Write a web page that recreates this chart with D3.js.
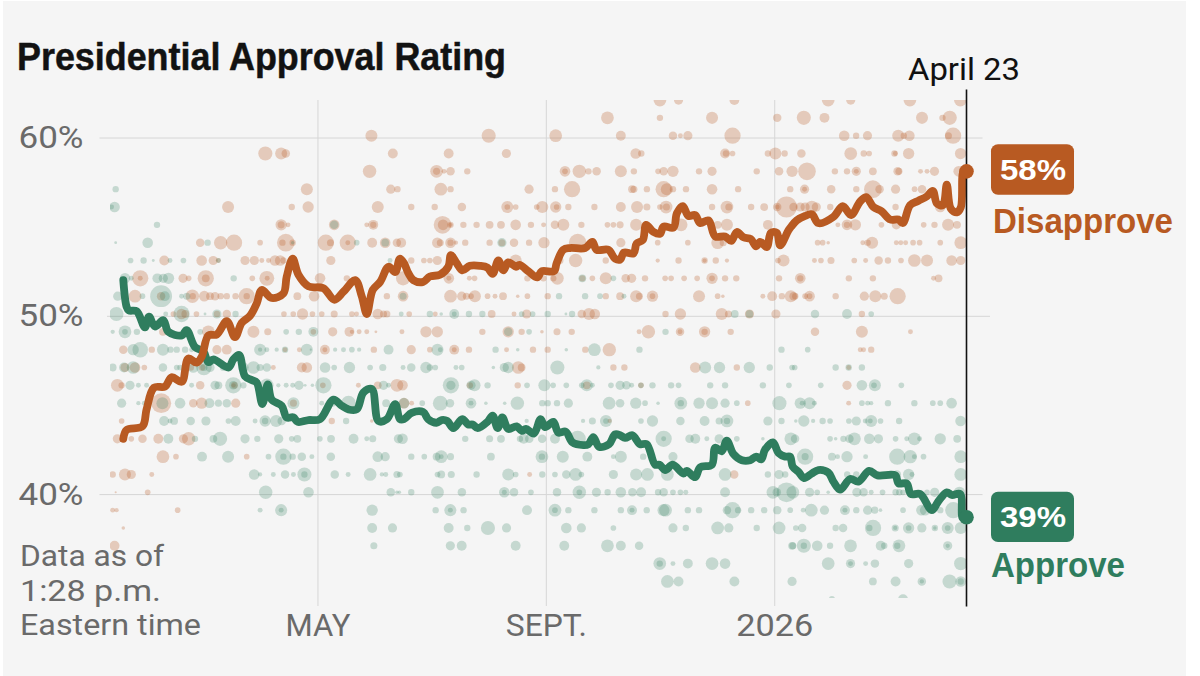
<!DOCTYPE html>
<html><head><meta charset="utf-8">
<script src="https://cdn.jsdelivr.net/npm/d3@7"></script>
<style>html,body{margin:0;padding:0;background:#fff;overflow:hidden}svg{display:block}</style>
</head><body><svg id="c" width="1200" height="676"></svg>
<script>
// x values are days relative to May 1, 2025; y values are percent.
const yTicks=[60,50,40];
const xTickDays=[0,122.7,245.4];
const xTickLabels=["MAY","SEPT.","2026"];
const lastDay=348.7;
const latestLabel="April 23";
const disapproveLatest=58, approveLatest=39;

const disapproveDays=[-104.3,-102.5,-94,-91.8,-87.8,-81.9,-78.3,-72.9,-69.4,-64.9,-62.2,-58.6,-54.1,-48.7,-44.3,-40.7,-36.2,-32.6,-29.9,-24.6,-18.3,-16.5,-13.3,-10.2,-4.8,3.2,9.1,14,20.3,23.8,26.5,29.7,33.7,38.2,41.8,44.3,46.5,48.8,51.5,56.8,60.4,65.8,70.3,71.7,74.8,77.8,81.9,87.3,91.3,94.1,97.2,99.9,102.5,106.7,108.5,113.3,118.1,120.5,127.1,128.5,132.1,135.7,143.8,147.7,150,156.3,159.9,162.6,164.7,169.8,171.5,174.8,176.6,180.5,184.1,185.9,191.3,193.1,196.3,199.3,202.9,205.6,210.1,213.7,219,222.3,225.3,228.9,232.8,235.7,237.8,241.4,243.6,246.8,248.6,253.1,254.5,257.5,262,265.6,269.1,277.2,282.2,286.7,291.5,294.8,298.7,303.2,307.7,312.1,314.5,318.4,322.9,327.4,330.6,332.8,336,338.1,340.3,343.5,345.7,347.1,348.7];
const disapproveValues=[43,43.5,43.7,44.65,45.87,45.93,46.45,46.2,47.5,47.27,47.6,48.8,48.85,49.6,48.7,49.5,49.9,50.6,51.35,50.9,51.15,52.1,53.1,52.2,51.55,51.45,50.8,51.25,51.9,51,50,51.35,51.8,52.65,52.35,53.1,52.85,52.3,51.9,51.8,52.1,52.2,52.65,53.3,52.85,52.45,52.7,52.7,52.6,52.25,53,52.45,52.9,52.65,52.75,52.4,52.05,52.4,52.4,52.85,53.6,53.7,53.7,54.05,53.6,53.6,53.1,53.05,53.45,53.4,53.95,54.15,55,54.6,54.5,54.9,54.85,55.65,56.05,55.5,55.55,55.1,55.25,54.35,54.35,54.1,54.6,54.3,54.2,53.8,54.05,53.75,54.55,54.55,53.85,54.7,54.9,55.25,55.5,55.6,55.1,55.45,56.05,55.55,56.3,56.55,56,55.75,55.3,55.3,55.1,56.1,56.35,56.6,56.9,56.2,56.1,57.25,55.9,55.7,56,58,58];

const approveDays=[-104.3,-102.5,-101.3,-97.1,-92.7,-90.5,-87.3,-82.8,-80.1,-72.9,-70.3,-65.8,-61.3,-58.6,-55.9,-47.8,-45.2,-42.1,-38.9,-35.3,-32.6,-29.6,-26.7,-24.6,-19.2,-16.5,-12.9,-10.6,-4.8,1.4,8.6,13.1,16.7,21.1,24.7,29.2,32.8,37.3,41.8,44.3,46.5,50.6,56.8,59.5,64,66.7,69.7,73,77.8,81,83.4,86.1,91.3,94.1,96.8,99.3,102.5,107,109.7,112,116.3,119.9,122.3,126.7,129.4,133.4,137,142.9,145.6,148.2,151.3,156.7,159.9,162.6,165.3,169.2,173.3,176.9,181.4,183.7,186.8,190.9,196.6,198.4,202.9,205.6,211.9,213.7,217.2,219.9,223.5,228,232.5,235.7,238.4,240.5,244.7,247.7,251.3,253.9,255.3,258.4,261.4,265.5,269.1,274.5,277.2,280.8,286.2,290.6,296.4,300.9,310.4,312.2,316.6,318.8,323.8,330.1,333.6,338.1,340.8,345.3,346.7,348.7];
const approveValues=[51.9,50.4,50.2,50.15,49.25,49.85,49.3,49.65,49,48.8,49.1,48.15,47.9,47.3,47.45,47,47.45,47.7,46.5,46.3,46.15,44.95,46.05,45.2,44.85,44.2,44.2,43.95,44.05,44.1,45.2,44.85,44.65,44.65,45.6,45.8,44,44.1,44.95,44.1,44.1,44.45,44.5,44.1,43.9,44.05,44,43.6,44.1,43.8,43.8,43.6,43.95,44.3,43.6,44.2,43.55,43.7,43.45,43.55,43.3,44.1,43.65,43.95,43.35,43.4,42.8,42.65,42.7,43.1,42.55,42.7,43.25,43.2,43.05,43.2,42.7,42.7,41.55,41.55,41.25,41.55,41.05,41.2,40.85,41.4,41.55,42.5,42.3,42.9,42.15,41.8,41.8,42,41.85,42.4,42.8,42.2,42,42,41.45,41.15,40.8,41.05,41.25,41.1,40.6,40.15,40.75,40.6,41.2,40.95,40.95,40.5,40.5,39.9,39.9,39,39.5,40,39.85,39.9,38.55,38.6];

// Individual polls: [percent, day, weight, day, weight, ...]
const disapprovePolls=[
[62,184,36,194,26,224,28,274.4,36,286.5,26,318.3,36,345.4,36],
[61,155.8,36,184,18,212,34,247,24,261.3,40,272.4,28,324.8,34,335.8,18,339.7,40],
[60,29,34,92,40,128,36,163,28,191,24,195,14,199,26,223,46,283,30,289.4,18,295.5,26,312,34,315,18,318,30,339,20,341.5,46],
[59,-28,40,-19.5,34,-17,24,40.5,28,70.5,28,101.5,26,171,30,174,18,219,28,219.5,18,223,16,242,18,246,34,251,18,260,24,286.5,36,293.5,18,296.4,16,310,18,310.5,14,317.6,32,345.5,32],
[58,28,38,64,36,64,20,68,14,71.5,24,80.5,18,133,30,133,16,140.7,38,145.6,18,150,24,163,34,170,18,183,16,186,24,191,32,205,18,212,26,236,18,248,24,255,32,263,50,278,18,284.5,18,289.5,26,289.5,14,298.4,22,311.7,24,312.4,20,324,14,327.5,14,331.5,26,344.5,30],
[57,-5.7,34,39.4,26,43,18,66.3,36,71.5,18,113.7,26,127.6,18,136.8,46,169,22,170,20,177,18,186,46,187.7,34,191,18,198,18,212,30,226,18,254,18,261.7,26,261.7,14,276,24,289.5,18,298.4,50,302,24,310.6,26,320.8,16,324.8,24],
[56,-48,34,-13.8,18,-5,32,32.4,34,50.4,18,63,18,77.6,24,102,34,102,16,106.5,16,117.8,16,120.8,34,128,32,128.5,16,134.8,18,148.8,18,163,28,171.7,34,177,20,184,16,187.3,36,187.5,20,212,18,220,36,221,20,233,18,240,22,247,24,247,14,252,60,255.8,24,259.4,26,262,26,265.6,36,268,26,275.5,18,310.6,18,334.6,30],
[55,-19.5,32,-19.5,20,-15.8,14,9,30,26.5,14,30,28,30,18,67.2,50,67.5,30,71.5,18,71.5,12,78.4,18,85.5,18,92.5,22,98.6,22,106.5,30,114.7,18,121.5,14,127.6,24,132.1,34,141.8,18,155.8,16,159,16,162.6,20,171.2,34,195.4,36,215,22,220,34,242,28,279.6,14,284.5,30,284.5,18,289,32,303,16,311,26,325.7,16,331.5,18,338.8,34,343.6,22],
[54,-63,24,-52,38,-44.8,46,-30.8,16,-18.8,18,-17,50,-13.3,18,4.5,46,7,20,16.3,46,16.3,14,29.4,28,36.4,30,42.7,24,45,28,64.4,30,66,20,71.5,30,71.5,18,74.4,12,79.4,18,92.5,18,99.1,20,105.6,24,113.7,18,121.7,32,139.8,50,147.7,24,163,26,182.8,16,199,16,215,36,218,20,268.7,16,271.4,16,274.4,10,293,14,295.6,18,298,34,311,14,313.4,14,316,14,320,16,323.5,16,334.6,16,345.6,36],
[53,-82.3,28,-62.2,30,-56,26,-53.2,14,-38.9,26,-33.9,26,-29.9,14,-26.3,14,-22.8,30,-20,30,-18.3,18,7.2,26,50.4,18,57.2,16,60.4,16,64.4,26,106.5,34,130.3,20,138.7,38,154.9,18,182.8,12,194,18,208,18,208,12,214,18,220,12,247.4,16,250.4,34,267,14,270.5,16,275.9,20,288.4,16,294.5,14,301.5,24,306.5,18,313.5,16,320.7,36,327.5,34,340.7,30,345.6,26],
[52,-95.2,46,-95.2,14,-72.2,26,-69.2,16,-60,46,-60,22,-35,16,-27.2,42,-27,14,1.4,30,15.8,18,46,40,70.6,30,70.6,14,81.6,14,84.4,16,112.8,18,121.4,18,126.7,18,128.9,36,142.3,18,147.7,16,154.9,34,165.6,24,168.8,26,176,18,186.8,16,190,16,197,16,204,16,212,32,212,16,219,18,225,18,248,18,259.4,30,259.4,18,285.5,18,298.4,18,331,14,333.7,22],
[51,-98,36,-84,24,-67.2,38,-67,18,-60.8,30,-57.7,22,-55,24,-52,18,-48.7,18,-44,18,-38,46,-38,18,-10.8,22,-1.8,30,37.3,18,46,30,71.5,36,77.5,26,80,20,82.5,16,84.6,34,91.4,16,95.4,14,99.7,22,107.6,10,112.8,16,123.7,18,154.9,18,162.6,22,171.2,34,173,20,180,32,180,16,205,34,215,16,217.8,10,239.3,14,244.3,28,249.5,18,254.3,34,256.7,18,255.8,24,262,16,264.4,30,264.4,16,278.4,18,293.8,26,299.7,34,304.5,20,311.7,46],
[50,-77.4,16,-73,30,-71,22,-65,16,-54,18,-48.7,24,-18,16,-13,16,-8,32,-2.7,16,2.3,16,9,20,18.5,16,21,14,32.4,30,35.5,20,37.3,20,49.3,16,63.3,14,93.6,22,105.6,14,112.4,26,142,24,145.9,34,149,30,187,18,195,32,217.2,34,220.8,20,232.1,26,246.3,26,292.5,18],
[49,-83,22,-58.6,36,-34.4,34,-26.7,20,-2.2,16,8.2,26,17.2,28,18.5,12,22.4,14,26.5,14,31.4,8,45.4,14,58.3,32,64.4,32,88.6,18,102.5,32,109.7,18,120.6,10,128.7,20,136.6,18,172.8,14,177.8,38,194.8,24,194.8,14,208,32,208,18,222,18,267.3,24,292.5,34,318.6,14],
[48,-104.3,24,-89,18,-54,26,-48.7,28,-17.4,14,-9.7,14,4,28,4,14,30.3,18,50.4,26,60.4,16,73.5,28,73.5,14,81.4,18,101.6,14,115.8,18,123.7,18,143.9,18,156.8,38,291.6,14,293.4,14,297.5,18],
[47,-103.4,26,-98,30,-93,16,-68,18,-62,18,-23.7,14,-8.4,28,-5.7,30,107.9,36,109.7,22,159,18,164.9,18,203,30,225.3,18,285.4,14],
[46,-107.5,36,-105.2,18,-63,24,-44.6,20,-45,12,2.9,16,22,14,32.4,22,42.7,36,45.7,30,81.9,18,107.6,18,144.7,22,173.8,16,284.5,26],
[45,-83.9,56,-66.7,24,-62.2,32,-43.9,26,-12.9,20,46.5,30,50.6,14,231.2,16,285.4,14],
[44,-105.2,16,7.7,18,29.2,10,157,12],
[43,-107.5,26,-100,16,-94,24,-85.5,28,-72,26,-69.2,38],
[42,-83,36,-76,16,-38,16],
[41,-110,18,-103.4,34,-100,26,-89,14,114,14,223.9,24],
[40,-108.4,6,-91.2,16],
[39,-110,14,-107.9,12,-75.1,16],
[38,-104.3,10],
[37,-109,28]];

const approvePolls=[
[57,-108.4,18],
[56,-110.6,14,-109,30],
[55,-86.2,18,9,24],
[54,-108.4,8,-91.2,30,-59,18,-13.3,10,21.1,16,36.4,22,99.1,26],
[53,-100.4,16,-93.4,18,-88.2,8,-79.2,14,-72,16,-53.2,14,39,14],
[52,-103.4,30,-100,14,-86,28,-82.8,26,-80,32,-45,18,142.3,22,159,16],
[51,-107.3,26,-94,16,-84,62,-82,28,-73,14,-70.2,20,46,20,129.8,18,143.8,18,151.8,16,164.7,14],
[50,-108,40,-81.5,14,-73,46,-60.4,8,-54,26,-44,18,45,14,60.4,18,66.5,10,73.5,28,73.5,14,81.4,18,88.6,18,109.7,16,115.6,16,123.7,18,133.5,8,136.8,18,224.2,22,232.1,22,267.3,24,284.5,28,297.5,16],
[49,-110,12,-103.4,36,-103.4,16,-97,18,-63,16,-16.8,16,-10,18,-2.2,28,102.5,24,113.7,16,187,18],
[48,-99,32,-95.2,44,-83,34,-79,18,-75.6,18,-71.1,18,-67.6,14,-64.9,14,-30.8,34,-30.8,12,-27.2,14,-21.9,12,-17.4,18,-5.7,34,-3.6,6,9.5,12,14,14,18.5,16,22.4,12,38.2,28,64.5,34,66,14,95.7,18,107.6,10,133.7,10,148.8,36,173,18,249.3,18,263.4,16],
[47,-110,22,-103.9,28,-99,36,-83,24,-75.6,16,-73.8,16,-66.7,30,-61,44,-61,20,-57.7,26,-50.5,20,-39.8,30,-34.4,36,-30.8,20,-27.2,24,4.1,30,9,16,17.2,32,28.3,16,35.1,20,46,14,50.4,24,58.3,32,60.4,18,63.3,16,74.4,14,77.5,16,94.5,10,100.4,26,102.5,32,128.9,40,150.9,12,208.3,34,216,32,232,32,243,18,255,16,256.4,16,278.4,18,285.4,18,292.5,18],
[46,-100.7,26,-96.2,14,-91.8,14,-67.6,14,-55,26,-53.2,22,-45.2,46,-45.2,24,-39.8,18,-27.2,38,-21,12,-16.8,14,-13.3,14,-9.9,26,-6.6,8,-2.7,10,3.2,46,35.5,26,38.2,14,71.7,46,71.7,26,82.5,26,84.4,34,91.4,18,112.6,16,121.9,34,126.6,16,133.7,16,142,16,144.7,34,147.7,14,157.7,16,162.6,26,166,24,168.8,14,173.8,16,180,18,190,18,194,16,211,18,219,18,239.3,18,253.3,16,270.4,16,292.5,30,299.5,34,299,16,313.7,16],
[45,-105.2,26,-96.2,12,-93,14,-83.3,34,-73.8,30,-58,28,-53.2,20,-48.7,24,-12.9,34,2.3,14,8,20,16.7,42,36.9,22,46.5,30,56.3,16,66,42,71.2,24,82.5,30,82.5,14,90.5,10,100.6,10,107.4,38,120.8,18,123.7,18,128.7,18,134.8,26,156.7,36,162.6,24,171,32,176,16,183,10,195.2,36,195.2,18,205,32,212,34,219,26,225.3,16,248.2,40,259.4,32,260.4,14,264.4,34,267,14,292.5,16,295.6,14,297.5,12,306.5,18,320.7,18,330.6,16,334.6,16,340.7,30],
[44,-82.4,28,-79.2,14,-77,22,-68.1,24,-59.9,26,-47.8,16,-43.9,28,-33.5,14,-28.1,32,-28.1,18,-22.2,34,-19.2,24,15.4,18,112.4,12,142.7,12,147.7,20,155,34,155,16,173.8,16,180,32,195,24,208,28,215.8,20,220,36,220,18,242,26,249.3,18,257,10,261.3,32,266.3,12,271.4,18,275.4,16,285.5,16,289.5,26,294.3,14,297.5,34,297,14,302.5,16,312.5,18,345.5,30],
[43,-80.1,28,-65.8,18,-55.9,22,-52.3,40,-38.9,26,-32.3,18,-20.8,26,-13.8,16,-10.8,22,1.3,16,7.3,22,19.4,28,26.5,14,29.7,20,43.5,26,45.7,30,79.4,18,92.5,20,98.6,22,108.8,18,110.8,28,113.8,24,120.7,24,127.6,28,139.8,46,186,46,186,14,199.9,24,203,28,209.2,14,215.8,26,225.3,16,239.3,10,254.3,36,256.6,24,275.4,16,278.4,10,282.6,18,285.8,24,288.5,36,296.5,30,301.4,26,310.6,16,316.6,14,320.7,36,323.5,14,334.6,32,343.7,22],
[42,-62,28,-48,34,-26.3,16,-18.3,46,-18.3,18,-13.3,18,-8.4,24,-3,14,7.2,24,32.4,30,36.4,26,50.4,18,57.4,16,64,22,66.5,36,66.5,14,71.5,20,93.2,22,120.6,36,120.6,18,131.8,34,145,28,159,14,163,34,175,18,191,26,262,46,262,20,276.4,22,279.4,14,284.5,32,294.5,14,311.5,46,318.5,38,320.7,14,325.6,16,345.6,36],
[41,-34,30,-30.8,12,-23.7,14,-17.4,24,-12.9,14,-7,40,-7,18,9.3,24,16.5,14,28.3,36,34.6,12,36.7,14,42.7,20,44.3,16,64.5,16,66.5,22,71.9,20,85.5,18,102.5,34,106.5,16,120.8,18,127.6,16,133.7,24,138.7,36,141.8,16,159,26,171.2,34,177.3,36,188,36,219,36,242,18,248,26,251.3,18,284.6,18,289.5,18,311.3,24,317.6,32,319.4,14,345.6,36],
[40,-27.8,38,-4.8,30,39.4,24,42.7,10,44,10,50.4,18,64.5,36,77.6,24,100.4,30,100.4,14,105.6,24,114.7,16,128.7,24,140.7,38,140.7,16,149.9,26,155.9,18,163,30,169.2,24,173.9,28,183,18,186,24,191,16,195,16,197.9,14,219,28,244.7,36,246.8,24,252,56,255.4,36,264.4,26,268.5,16,274.4,10,289.8,26,293.4,24,297.5,14,303.6,16,310.6,18,312.6,18,314.6,16,327.5,16,331.6,26,344.9,32],
[39,-30.8,14,-19.5,34,-19.5,14,29.4,32,63.5,18,71.4,34,71.4,14,78.5,18,112.6,28,127.6,36,127.6,16,134.8,18,148.8,18,163,18,169,28,169,14,176.9,18,185.9,34,187,36,199,18,205,18,220,24,223,46,226,18,233,18,240,18,247,24,254,16,261,14,265.3,36,272.4,26,283.4,28,283.4,14,289.5,18,295.6,26,299.4,20,302.5,10,314.6,16,324.5,30,326.5,30,334.6,18,341.6,46],
[38,29.4,28,40.3,26,70.5,28,80.5,18,91.6,40,101.6,26,133.7,30,141.8,26,159,16,191,26,197.9,18,215,36,221,26,236,18,248,36,257,16,260.4,24,278.4,18,282.4,24,298.5,46,296.5,18,310.4,20,310.4,12,317.6,32,317.6,16,324.7,26,331.7,18,331.7,10,338.6,34,338.6,16,345.6,34],
[37,30.3,20,71.4,26,77.5,28,106.5,28,132.6,28,155.8,36,163,28,172.8,24,255,22,255.4,20,261.3,40,261.3,18,268.5,30,275.4,18,286.4,36,302.6,28,304.5,18,312.4,36,311.5,18,338.6,26,338.6,12],
[36,183.9,36,183.9,18,191,14,199,28,212,36,219,30,274.4,36,286.4,26,286.4,14,294.5,14,299.5,24,317.6,26,345.6,38],
[35,188,36,194,28,224,28,255,26,298.4,22,310.6,28,324.7,24,324.7,12,339.6,40,345.6,30,345.6,18],
[34,276.4,18,314.6,28]];

const colors={dis:"#B85A22",app:"#2F7D5E"};
const svg=d3.select("#c");
svg.append("rect").attr("x",3).attr("y",1).attr("width",1183).attr("height",675).attr("fill","#F5F5F5");

const x=d3.scaleLinear().domain([-105,lastDay]).range([122,966.5]);
const y=d3.scaleLinear().domain([60,40]).range([135.7,492.3]);
const r=d3.scaleLinear().domain([0,60]).range([0,10.6]);
const gridC="#d6d6d6", labelC="#6a6a6a";
const lightFont="Roboto, 'Liberation Sans', sans-serif";

// Horizontal grid + y labels
const yAxis=d3.axisLeft(y).tickValues(yTicks).tickFormat(d=>d+"%").tickSize(-883).tickPadding(16);
const gy=svg.append("g").attr("transform","translate(99.5,1.8)").call(yAxis);
gy.select(".domain").remove();
gy.selectAll("line").attr("stroke",gridC).attr("stroke-width",1)
  .filter(d=>d===50).attr("x1",7.5).attr("x2",890.5);
gy.selectAll("text").attr("font-family",lightFont).attr("font-weight",400).attr("font-size",32)
  .attr("fill",labelC).attr("dy",0).attr("y",10).attr("textLength",65).attr("lengthAdjust","spacingAndGlyphs");

// Vertical grid + x labels
const xAxis=d3.axisBottom(x).tickValues(xTickDays).tickFormat((d,i)=>xTickLabels[i]).tickSize(-506).tickPadding(0);
const gx=svg.append("g").attr("transform","translate(0,606)").call(xAxis);
gx.select(".domain").remove();
gx.selectAll("line").attr("stroke",gridC).attr("stroke-width",1);
const xWidths=[65,81,77];
gx.selectAll("text").attr("font-family",lightFont).attr("font-weight",400).attr("font-size",32)
  .attr("fill",labelC).attr("dy",0).attr("y",29.5)
  .attr("textLength",(d,i)=>xWidths[i]).attr("lengthAdjust","spacingAndGlyphs");

// Polls
svg.append("defs").append("clipPath").attr("id","plot").append("rect")
  .attr("x",110).attr("y",100).attr("width",856.5).attr("height",498);
const toPolls=rows=>rows.flatMap(row=>d3.range(1,row.length,2).map(i=>({v:row[0],d:row[i],w:row[i+1]})));
const gp=svg.append("g").attr("clip-path","url(#plot)");
[[disapprovePolls,colors.dis,.27],[approvePolls,colors.app,.24]].forEach(([rows,c,a])=>{
  gp.append("g").selectAll("circle").data(toPolls(rows)).join("circle")
    .attr("cx",p=>x(p.d)).attr("cy",p=>y(p.v)).attr("r",p=>r(p.w)).attr("fill",c).attr("fill-opacity",a);
});

// Trend lines
const line=d3.line().x(d=>x(d[0])).y(d=>y(d[1])).curve(d3.curveCatmullRom.alpha(0.5));
const lineOf=(ds,vs,c)=>svg.append("path").datum(ds.map((d,i)=>[d,vs[i]])).attr("d",line)
  .attr("fill","none").attr("stroke",c).attr("stroke-width",7.8).attr("stroke-linejoin","round").attr("stroke-linecap","round");
lineOf(approveDays,approveValues,colors.app);
lineOf(disapproveDays,disapproveValues,colors.dis);

// Latest marker
svg.append("line").attr("x1",x(lastDay)).attr("x2",x(lastDay)).attr("y1",89.5).attr("y2",606.5).attr("stroke","#111").attr("stroke-width",1.6);
svg.append("circle").attr("cx",x(lastDay)).attr("cy",y(disapproveValues.at(-1))).attr("r",7.3).attr("fill",colors.dis);
svg.append("circle").attr("cx",x(lastDay)).attr("cy",y(approveValues.at(-1))).attr("r",7.3).attr("fill",colors.app);
svg.append("text").text(latestLabel).attr("x",908).attr("y",80).attr("font-family",lightFont).attr("font-size",32)
  .attr("fill","#111").attr("textLength",112).attr("lengthAdjust","spacingAndGlyphs");

// Title and note
const boldFont="'Liberation Sans', Arial, sans-serif";
svg.append("text").text("Presidential Approval Rating").attr("x",17).attr("y",69.5).attr("font-family",boldFont)
  .attr("font-weight",700).attr("font-size",39).attr("fill","#121212").attr("stroke","#121212").attr("stroke-width",.5)
  .attr("textLength",489).attr("lengthAdjust","spacingAndGlyphs");
[["Data as of",566,144],["1:28 p.m.",601,141],["Eastern time",635,181]].forEach(([t,yy,w])=>{
  svg.append("text").text(t).attr("x",20).attr("y",yy).attr("font-family",lightFont).attr("font-weight",400).attr("font-size",29)
    .attr("fill",labelC).attr("textLength",w).attr("lengthAdjust","spacingAndGlyphs");
});

// End labels
[[disapproveLatest,"Disapprove",colors.dis,144.3,180,232.7,180,993],[approveLatest,"Approve",colors.app,491.7,526.7,577,134,991]].forEach(([v,name,c,top,base,nameY,w,nx])=>{
  svg.append("rect").attr("x",991).attr("y",top).attr("width",83).attr("height",50.4).attr("rx",7).attr("fill",c);
  svg.append("text").text(v+"%").attr("x",1000).attr("y",base).attr("font-family",boldFont).attr("font-weight",700).attr("font-size",30)
    .attr("fill","#fff").attr("textLength",66).attr("lengthAdjust","spacingAndGlyphs");
  svg.append("text").text(name).attr("x",nx).attr("y",nameY).attr("font-family",boldFont).attr("font-weight",700).attr("font-size",35)
    .attr("fill",c).attr("textLength",w).attr("lengthAdjust","spacingAndGlyphs");
});
</script></body></html>
